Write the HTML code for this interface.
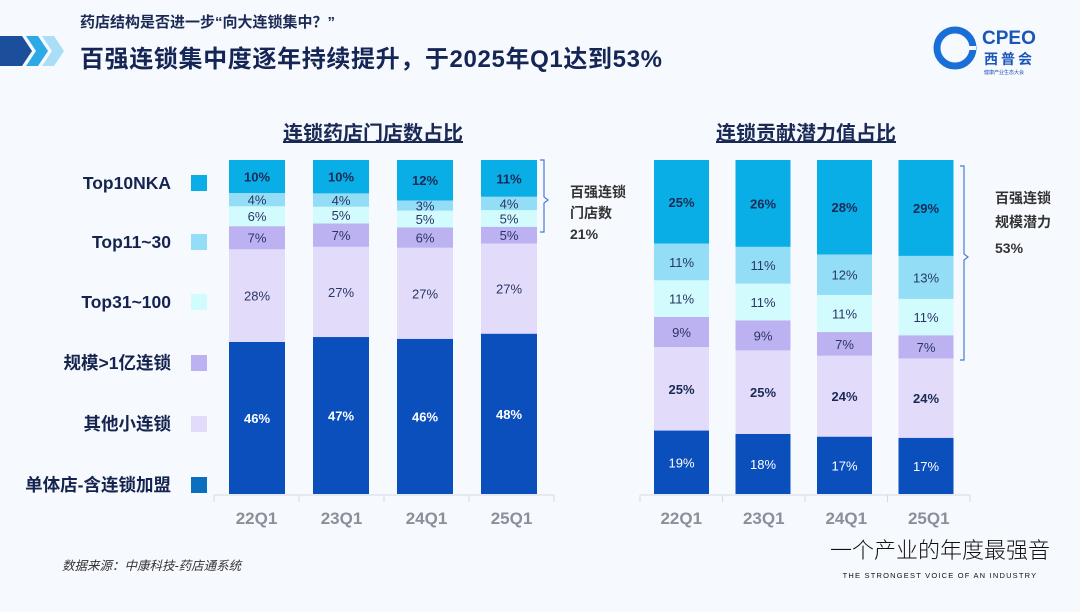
<!DOCTYPE html>
<html><head><meta charset="utf-8">
<style>
html,body{margin:0;padding:0;background:#f6f9fe;}
body{width:1080px;height:607px;overflow:hidden;position:relative;font-family:"Liberation Sans","Noto Sans CJK SC",sans-serif;}
svg text{font-family:"Liberation Sans","Noto Sans CJK SC",sans-serif;}
</style></head>
<body>
<svg id="chart" width="1080" height="607" viewBox="0 0 1080 607">
  <g>
    <polygon points="0,36 22,36 32,51 22,66 0,66" fill="#1b4f9c"/>
    <polygon points="26,36 38,36 48,51 38,66 26,66 36,51" fill="#2da9e6"/>
    <polygon points="42,36 54,36 64,51 54,66 42,66 52,51" fill="#a9def6"/>
  </g>
  <text x="80" y="27" font-size="15" font-weight="bold" fill="#1a2a55">药店结构是否进一步“向大连锁集中？”</text>
  <text x="80" y="67" font-size="24" font-weight="bold" fill="#152555" textLength="582">百强连锁集中度逐年持续提升，于2025年Q1达到53%</text>
  <g>
    <circle cx="955" cy="48" r="18" fill="none" stroke="#1a6fd6" stroke-width="7"/>
    <rect x="958" y="46" width="18" height="4" fill="#f6f9fe"/>
    <text x="982" y="44" font-size="19" font-weight="bold" fill="#1a55b8">CPEO</text>
    <text x="984" y="64" font-size="14" font-weight="bold" fill="#1a55b8" letter-spacing="3">西普会</text>
    <text x="984" y="74" font-size="5" fill="#1a55b8">健康产业生态大会</text>
  </g>

  <text x="373" y="140" font-size="20" font-weight="bold" fill="#1a2a55" text-anchor="middle" text-decoration="underline">连锁药店门店数占比</text>
  <text x="806" y="140" font-size="20" font-weight="bold" fill="#1a2a55" text-anchor="middle" text-decoration="underline">连锁贡献潜力值占比</text>

  <g id="legend"></g>
  <g id="left"></g>
  <g id="right"></g>

  <path d="M540,160 h4 v37 l4,3 l-4,3 v29 h-4" fill="none" stroke="#4a7bd8" stroke-width="1.2"/>
  <text x="570" y="197" font-size="14" font-weight="bold" fill="#333">百强连锁</text>
  <text x="570" y="218" font-size="14" font-weight="bold" fill="#333">门店数</text>
  <text x="570" y="239" font-size="14" font-weight="bold" fill="#333">21%</text>
  <path d="M960,166 h4 v88 l4,3 l-4,3 v100 h-4" fill="none" stroke="#4a7bd8" stroke-width="1.2"/>
  <text x="995" y="203" font-size="14" font-weight="bold" fill="#333">百强连锁</text>
  <text x="995" y="227" font-size="14" font-weight="bold" fill="#333">规模潜力</text>
  <text x="995" y="253" font-size="14" font-weight="bold" fill="#333">53%</text>

  <text x="62" y="570" font-size="12.5" font-style="italic" fill="#333">数据来源：中康科技-药店通系统</text>
  <text x="940" y="558" font-size="22" fill="#111" text-anchor="middle" font-weight="300">一个产业的年度最强音</text>
  <text x="940" y="578" font-size="7.5" fill="#111" text-anchor="middle" letter-spacing="1.2">THE STRONGEST VOICE OF AN INDUSTRY</text>
</svg>
<script>
const categories = ["22Q1","23Q1","24Q1","25Q1"];
const seriesNames = ["单体店-含连锁加盟","其他小连锁","规模>1亿连锁","Top31~100","Top11~30","Top10NKA"];
const leftSingle = [46,47,46,48];
const leftSmall = [28,27,27,27];
const leftLarge = [7,7,6,5];
const leftTop31 = [6,5,5,5];
const leftTop11 = [4,4,3,4];
const leftTop10 = [10,10,12,11];
const rightSingle = [19,18,17,17];
const rightSmall = [25,25,24,24];
const rightLarge = [9,9,7,7];
const rightTop31 = [11,11,11,11];
const rightTop11 = [11,11,12,13];
const rightTop10 = [25,26,28,29];

const colors = ["#0b4fbd","#e2dcfa","#bcb2f2","#d2fbfd","#93def6","#0aaee6"];
const legendColors = ["#0b6fc0","#e2dcfa","#bcb2f2","#d2fbfd","#93def6","#0aaee6"];
const NS = "http://www.w3.org/2000/svg";
function mk(tag, attrs, parent){const e=document.createElementNS(NS,tag);for(const k in attrs)e.setAttribute(k,attrs[k]);parent.appendChild(e);return e;}

const lg = document.getElementById("legend");
const legendY = [183,242,302,363,424,485];
for(let i=0;i<6;i++){
  const si = 5-i;
  const r = mk("rect",{x:191,y:legendY[i]-8,width:16,height:16,fill:legendColors[si]},lg);
  
  
  const t = mk("text",{x:171,y:legendY[i]+6,"font-size":17.5,"font-weight":"bold",fill:"#15244f","text-anchor":"end"},lg);
  
  
  t.textContent = seriesNames[si];
}

function drawChart(gid, series, x0, step, bw, axisX0, axisX1, boldFlags, labelColors){
  const g = document.getElementById(gid);
  const ax = mk("line",{x1:axisX0,x2:axisX1,y1:495,y2:495,stroke:"#d6d9e0","stroke-width":1},g);
  
  
  const tw=(axisX1-axisX0)/categories.length;
  for(let k=0;k<=categories.length;k++){
    const tk = mk("line",{x1:axisX0+k*tw,x2:axisX0+k*tw,y1:495,y2:502,stroke:"#d6d9e0"},g);
    
    
  }
  categories.forEach((c,ci)=>{
    const x = x0 + ci*step;
    let total = 0;
    series.forEach(arr=>{ total += arr[ci]; });
    const pxPer = 334/total;
    let cum = 0;
    series.forEach((arr,si)=>{
      const v = arr[ci];
      const yTop = 494-(cum+v)*pxPer, yBot = 494-cum*pxPer;
      const r = mk("rect",{x:x,y:yTop,width:bw,height:yBot-yTop,fill:colors[si]},g);
      
      
      const t = mk("text",{x:x+bw/2,y:(yTop+yBot)/2+5,"font-size":13,"text-anchor":"middle",fill:labelColors[si],"font-weight":boldFlags[si]?"bold":"normal"},g);
      
      
      t.textContent = v+"%";
      cum += v;
    });
    const cl = mk("text",{x:axisX0+ci*tw+tw/2,y:524,"font-size":17,"font-weight":"bold",fill:"#8a8f99","text-anchor":"middle"},g);
    
    
    cl.textContent = c;
  });
}
drawChart("left",[leftSingle,leftSmall,leftLarge,leftTop31,leftTop11,leftTop10],229,84,56,214,554,
  [true,false,false,false,false,true],["#ffffff","#2b3566","#2b3566","#2b3566","#2b3566","#1a2a55"]);
drawChart("right",[rightSingle,rightSmall,rightLarge,rightTop31,rightTop11,rightTop10],654,81.5,55,640,970,
  [false,true,false,false,false,true],["#ffffff","#1a2a55","#2b3566","#2b3566","#2b3566","#1a2a55"]);
</script>
</body></html>
